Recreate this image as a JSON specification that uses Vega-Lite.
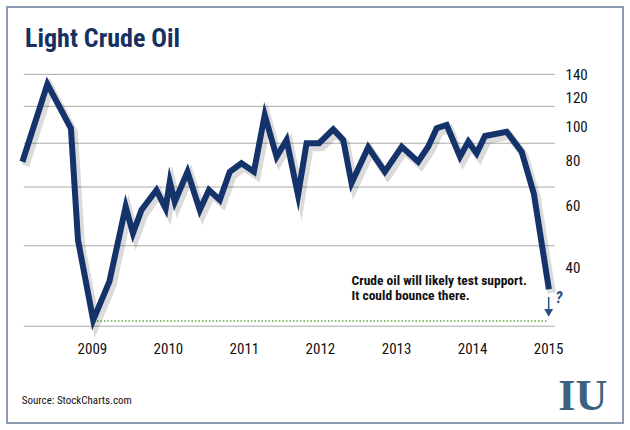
{
  "$schema": "https://vega.github.io/schema/vega-lite/v6.json",
  "width": 616,
  "height": 416,
  "padding": 7,
  "autosize": {"type": "none"},
  "background": "#ffffff",
  "config": {
    "view": {"stroke": "#8d9cb3", "strokeWidth": 2},
    "font": "Roboto Condensed, Noto Sans Condensed, Liberation Sans Narrow, DejaVu Sans Condensed, Open Sans Condensed, Liberation Sans, sans-serif"
  },
  "title": {
    "text": "Light Crude Oil",
    "anchor": "start",
    "frame": "group",
    "orient": "top",
    "offset": 0,
    "dx": 18,
    "dy": 66,
    "baseline": "alphabetic",
    "font": "Roboto Condensed, Noto Sans Condensed, Liberation Sans Narrow, DejaVu Sans Condensed, Open Sans Condensed, Liberation Sans, sans-serif",
    "fontSize": 26,
    "fontWeight": "bold",
    "color": "#16305f"
  },
  "datasets": {
    "oil": [
      {"date": "2008-02-02", "price": 79.4},
      {"date": "2008-06-01", "price": 131.2},
      {"date": "2008-09-22", "price": 98.6},
      {"date": "2008-10-26", "price": 47.8},
      {"date": "2009-01-07", "price": 28.5},
      {"date": "2009-03-26", "price": 36.6},
      {"date": "2009-06-12", "price": 59.4},
      {"date": "2009-07-17", "price": 50.0},
      {"date": "2009-08-27", "price": 58.1},
      {"date": "2009-11-07", "price": 66.1},
      {"date": "2009-12-21", "price": 58.7},
      {"date": "2010-01-10", "price": 69.8},
      {"date": "2010-02-03", "price": 61.3},
      {"date": "2010-04-05", "price": 74.4},
      {"date": "2010-06-03", "price": 58.1},
      {"date": "2010-07-17", "price": 66.1},
      {"date": "2010-09-07", "price": 62.0},
      {"date": "2010-10-25", "price": 74.4},
      {"date": "2010-12-20", "price": 78.6},
      {"date": "2011-02-18", "price": 74.4},
      {"date": "2011-04-11", "price": 107.4},
      {"date": "2011-06-07", "price": 82.0},
      {"date": "2011-07-25", "price": 91.4},
      {"date": "2011-09-18", "price": 64.0},
      {"date": "2011-10-29", "price": 89.5},
      {"date": "2011-12-28", "price": 89.5},
      {"date": "2012-03-05", "price": 97.9},
      {"date": "2012-04-22", "price": 91.4},
      {"date": "2012-06-01", "price": 69.1},
      {"date": "2012-08-20", "price": 87.1},
      {"date": "2012-11-08", "price": 74.4},
      {"date": "2013-01-28", "price": 87.5},
      {"date": "2013-04-17", "price": 79.4},
      {"date": "2013-06-04", "price": 87.5},
      {"date": "2013-07-15", "price": 98.6},
      {"date": "2013-09-01", "price": 100.7},
      {"date": "2013-11-04", "price": 82.0},
      {"date": "2013-12-14", "price": 90.4},
      {"date": "2014-01-23", "price": 83.8},
      {"date": "2014-03-04", "price": 93.8},
      {"date": "2014-06-16", "price": 96.4},
      {"date": "2014-08-27", "price": 84.7},
      {"date": "2014-10-25", "price": 64.5},
      {"date": "2015-01-05", "price": 34.8}
    ],
    "grid": [
      {"level": 139.7},
      {"level": 113.6},
      {"level": 89.5},
      {"level": 67.4},
      {"level": 46.1},
      {"level": 27.4}
    ],
    "one": [{}]
  },
  "layer": [
    {
      "data": {"name": "oil"},
      "mark": {"type": "line", "color": "#15336b", "strokeWidth": 6, "strokeJoin": "miter", "strokeMiterLimit": 10, "opacity": 0},
      "encoding": {
        "x": {
          "field": "date",
          "type": "temporal",
          "scale": {"type": "utc", "domain": [{"year": 2007, "month": 11, "date": 20, "utc": true}, {"year": 2015, "month": 12, "date": 27, "utc": true}]},
          "axis": {
            "title": null,
            "values": [
              {"year": 2009, "month": 1, "date": 1, "utc": true},
              {"year": 2010, "month": 1, "date": 1, "utc": true},
              {"year": 2011, "month": 1, "date": 1, "utc": true},
              {"year": 2012, "month": 1, "date": 1, "utc": true},
              {"year": 2013, "month": 1, "date": 1, "utc": true},
              {"year": 2014, "month": 1, "date": 1, "utc": true},
              {"year": 2015, "month": 1, "date": 1, "utc": true}
            ],
            "format": "%Y",
            "domain": false,
            "ticks": false,
            "grid": false,
            "offset": -75,
            "labelPadding": 0,
            "labelBaseline": "middle",
            "labelAlign": "center",
            "labelFontSize": 15,
            "labelColor": "#111111",
            "labelFlush": false,
            "labelOverlap": false
          }
        },
        "y": {
          "field": "price",
          "type": "quantitative",
          "scale": {"type": "log", "domain": [14.65, 216], "nice": false, "zero": false},
          "axis": {
            "title": null,
            "orient": "right",
            "values": [40, 60, 80, 100, 120, 140],
            "domain": false,
            "ticks": false,
            "grid": false,
            "offset": -58,
            "labelPadding": 0,
            "labelAlign": "left",
            "labelBaseline": "middle",
            "labelFontSize": 15,
            "labelColor": "#111111",
            "labelFlush": false,
            "labelOverlap": false
          }
        }
      }
    },
    {
      "data": {"name": "grid"},
      "mark": {"type": "rule", "color": "#a9a9a9", "strokeWidth": 1},
      "encoding": {
        "y": {"field": "level", "type": "quantitative", "title": null},
        "x": {"datum": {"year": 2008, "month": 2, "date": 8, "utc": true}, "type": "temporal", "title": null},
        "x2": {"datum": {"year": 2015, "month": 2, "date": 3, "utc": true}}
      }
    },
    {
      "data": {"name": "one"},
      "mark": {"type": "rule", "color": "#58a83c", "strokeWidth": 1.6, "strokeDash": [1.5, 2]},
      "encoding": {
        "y": {"datum": 28.34, "type": "quantitative", "title": null},
        "x": {"datum": {"year": 2009, "month": 1, "date": 25, "utc": true}, "type": "temporal", "title": null},
        "x2": {"datum": {"year": 2015, "month": 1, "date": 1, "utc": true}}
      }
    },
    {
      "data": {"name": "oil"},
      "mark": {"type": "line", "color": "#000000", "opacity": 0.14, "strokeWidth": 8, "xOffset": 3, "yOffset": 4, "strokeJoin": "miter", "strokeMiterLimit": 10},
      "encoding": {
        "x": {"field": "date", "type": "temporal", "title": null},
        "y": {"field": "price", "type": "quantitative", "title": null}
      }
    },
    {
      "data": {"name": "oil"},
      "mark": {"type": "line", "color": "#15336b", "strokeWidth": 6, "strokeJoin": "miter", "strokeMiterLimit": 10},
      "encoding": {
        "x": {"field": "date", "type": "temporal", "title": null},
        "y": {"field": "price", "type": "quantitative", "title": null}
      }
    },
    {
      "data": {"name": "one"},
      "mark": {"type": "text", "text": ["Crude oil will likely test support.", "It could bounce there."], "align": "left", "baseline": "alphabetic", "fontSize": 13.5, "fontWeight": "bold", "color": "#111111", "lineHeight": 15.5},
      "encoding": {
        "x": {"datum": {"year": 2012, "month": 6, "date": 1, "utc": true}, "type": "temporal", "title": null},
        "y": {"datum": 35.8, "type": "quantitative", "title": null}
      }
    },
    {
      "data": {"name": "one"},
      "mark": {"type": "rule", "color": "#2b4f82", "strokeWidth": 1.5},
      "encoding": {
        "x": {"datum": {"year": 2015, "month": 1, "date": 4, "utc": true}, "type": "temporal", "title": null},
        "y": {"datum": 33.1, "type": "quantitative", "title": null},
        "y2": {"datum": 30.4}
      }
    },
    {
      "data": {"name": "one"},
      "mark": {"type": "point", "shape": "triangle-down", "filled": true, "color": "#2b4f82", "size": 80, "opacity": 1},
      "encoding": {
        "x": {"datum": {"year": 2015, "month": 1, "date": 4, "utc": true}, "type": "temporal", "title": null},
        "y": {"datum": 29.85, "type": "quantitative", "title": null}
      }
    },
    {
      "data": {"name": "one"},
      "mark": {"type": "text", "text": "?", "align": "center", "baseline": "middle", "fontSize": 16, "fontWeight": "bold", "fontStyle": "italic", "color": "#2b4f82"},
      "encoding": {
        "x": {"datum": {"year": 2015, "month": 2, "date": 22, "utc": true}, "type": "temporal", "title": null},
        "y": {"datum": 32.9, "type": "quantitative", "title": null}
      }
    },
    {
      "data": {"name": "one"},
      "mark": {"type": "text", "text": "Source: StockCharts.com", "align": "left", "baseline": "middle", "fontSize": 11, "color": "#111111"},
      "encoding": {
        "x": {"datum": {"year": 2008, "month": 1, "date": 30, "utc": true}, "type": "temporal", "title": null},
        "y": {"datum": 16.9, "type": "quantitative", "title": null}
      }
    },
    {
      "data": {"name": "one"},
      "mark": {"type": "text", "text": "IU", "align": "center", "baseline": "alphabetic", "fontSize": 44, "fontWeight": "bold", "font": "Liberation Serif, DejaVu Serif, serif", "color": "#3b6080"},
      "encoding": {
        "x": {"datum": {"year": 2015, "month": 6, "date": 17, "utc": true}, "type": "temporal", "title": null},
        "y": {"datum": 15.94, "type": "quantitative", "title": null}
      }
    }
  ]
}
